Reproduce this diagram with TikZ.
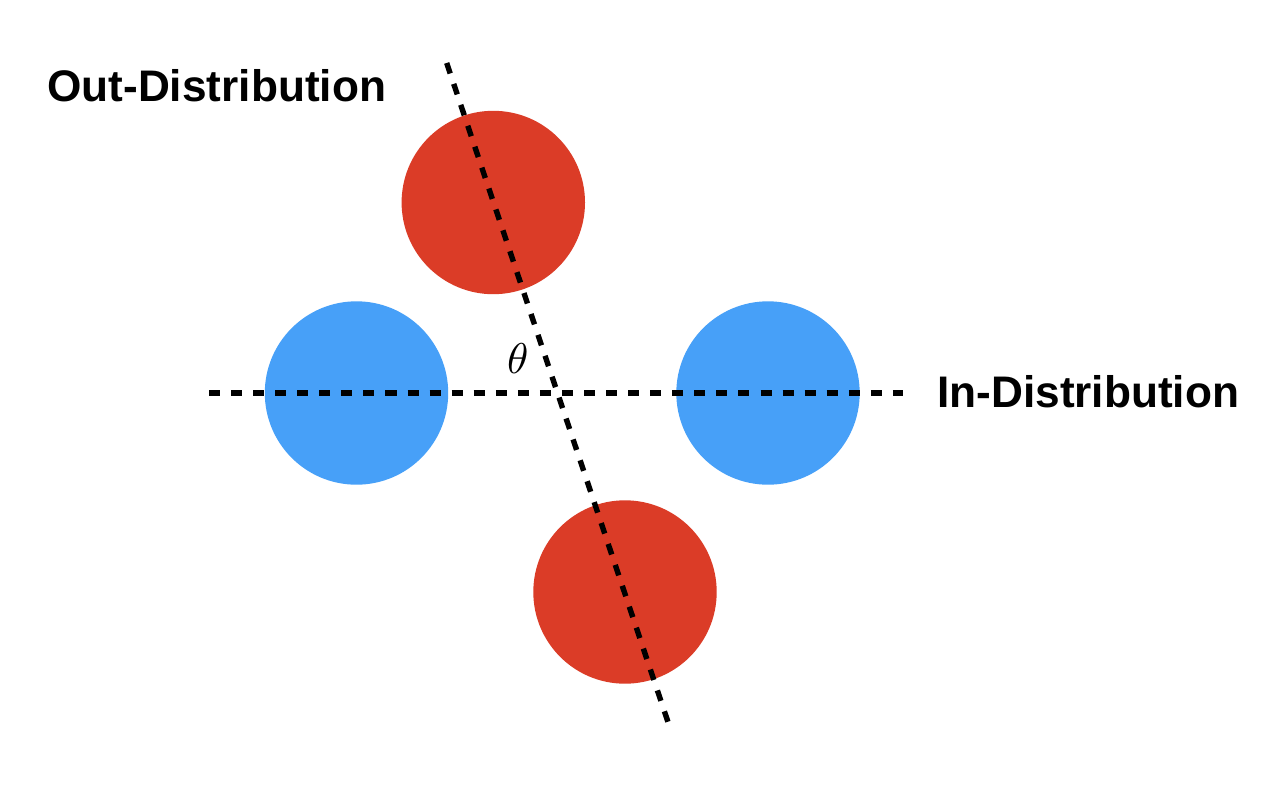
\documentclass[tikz,border=0pt]{standalone}
\usepackage{fontspec}
\setmainfont{Liberation Sans}
\usepackage{unicode-math}
\setmathfont{Latin Modern Math}
\definecolor{oodred}{RGB}{219,60,39}
\definecolor{idblue}{RGB}{71,160,248}
\begin{document}
\begin{tikzpicture}[x=1pt,y=-1pt,
  blob/.style={circle,minimum size=183.4pt,inner sep=0pt,draw=none},
  dashline/.style={line width=5.4pt,dash pattern=on 11.03pt off 11.03pt},
  biglabel/.style={font=\fontsize{44.2}{48}\selectfont\bfseries,inner sep=0pt,anchor=base west}]
\useasboundingbox (0,0) rectangle (1274,796);
\fill[white] (0,0) rectangle (1274,796);
\node[blob,fill=oodred] (r1) at (493.3,202.5) {};
\node[blob,fill=oodred] (r2) at (625,592) {};
\node[blob,fill=idblue] (b1) at (356.5,393) {};
\node[blob,fill=idblue] (b2) at (768,393) {};
\coordinate (h1) at (209,393);
\coordinate (h2) at (903,393);
\coordinate (s1) at (446.7,63);
\coordinate (s2) at (668,722);
\draw[dashline] (h1) -- (h2);
\draw[dashline] (s1) -- (s2);
\node[inner sep=0pt,font=\fontsize{43}{45}\selectfont] (th) at (518,359) {$\theta$};
\node[biglabel] (ood) at (47,101) {Out-Distribution};
\node[biglabel] (id) at (937,407) {In-Distribution};
\end{tikzpicture}
\end{document}
